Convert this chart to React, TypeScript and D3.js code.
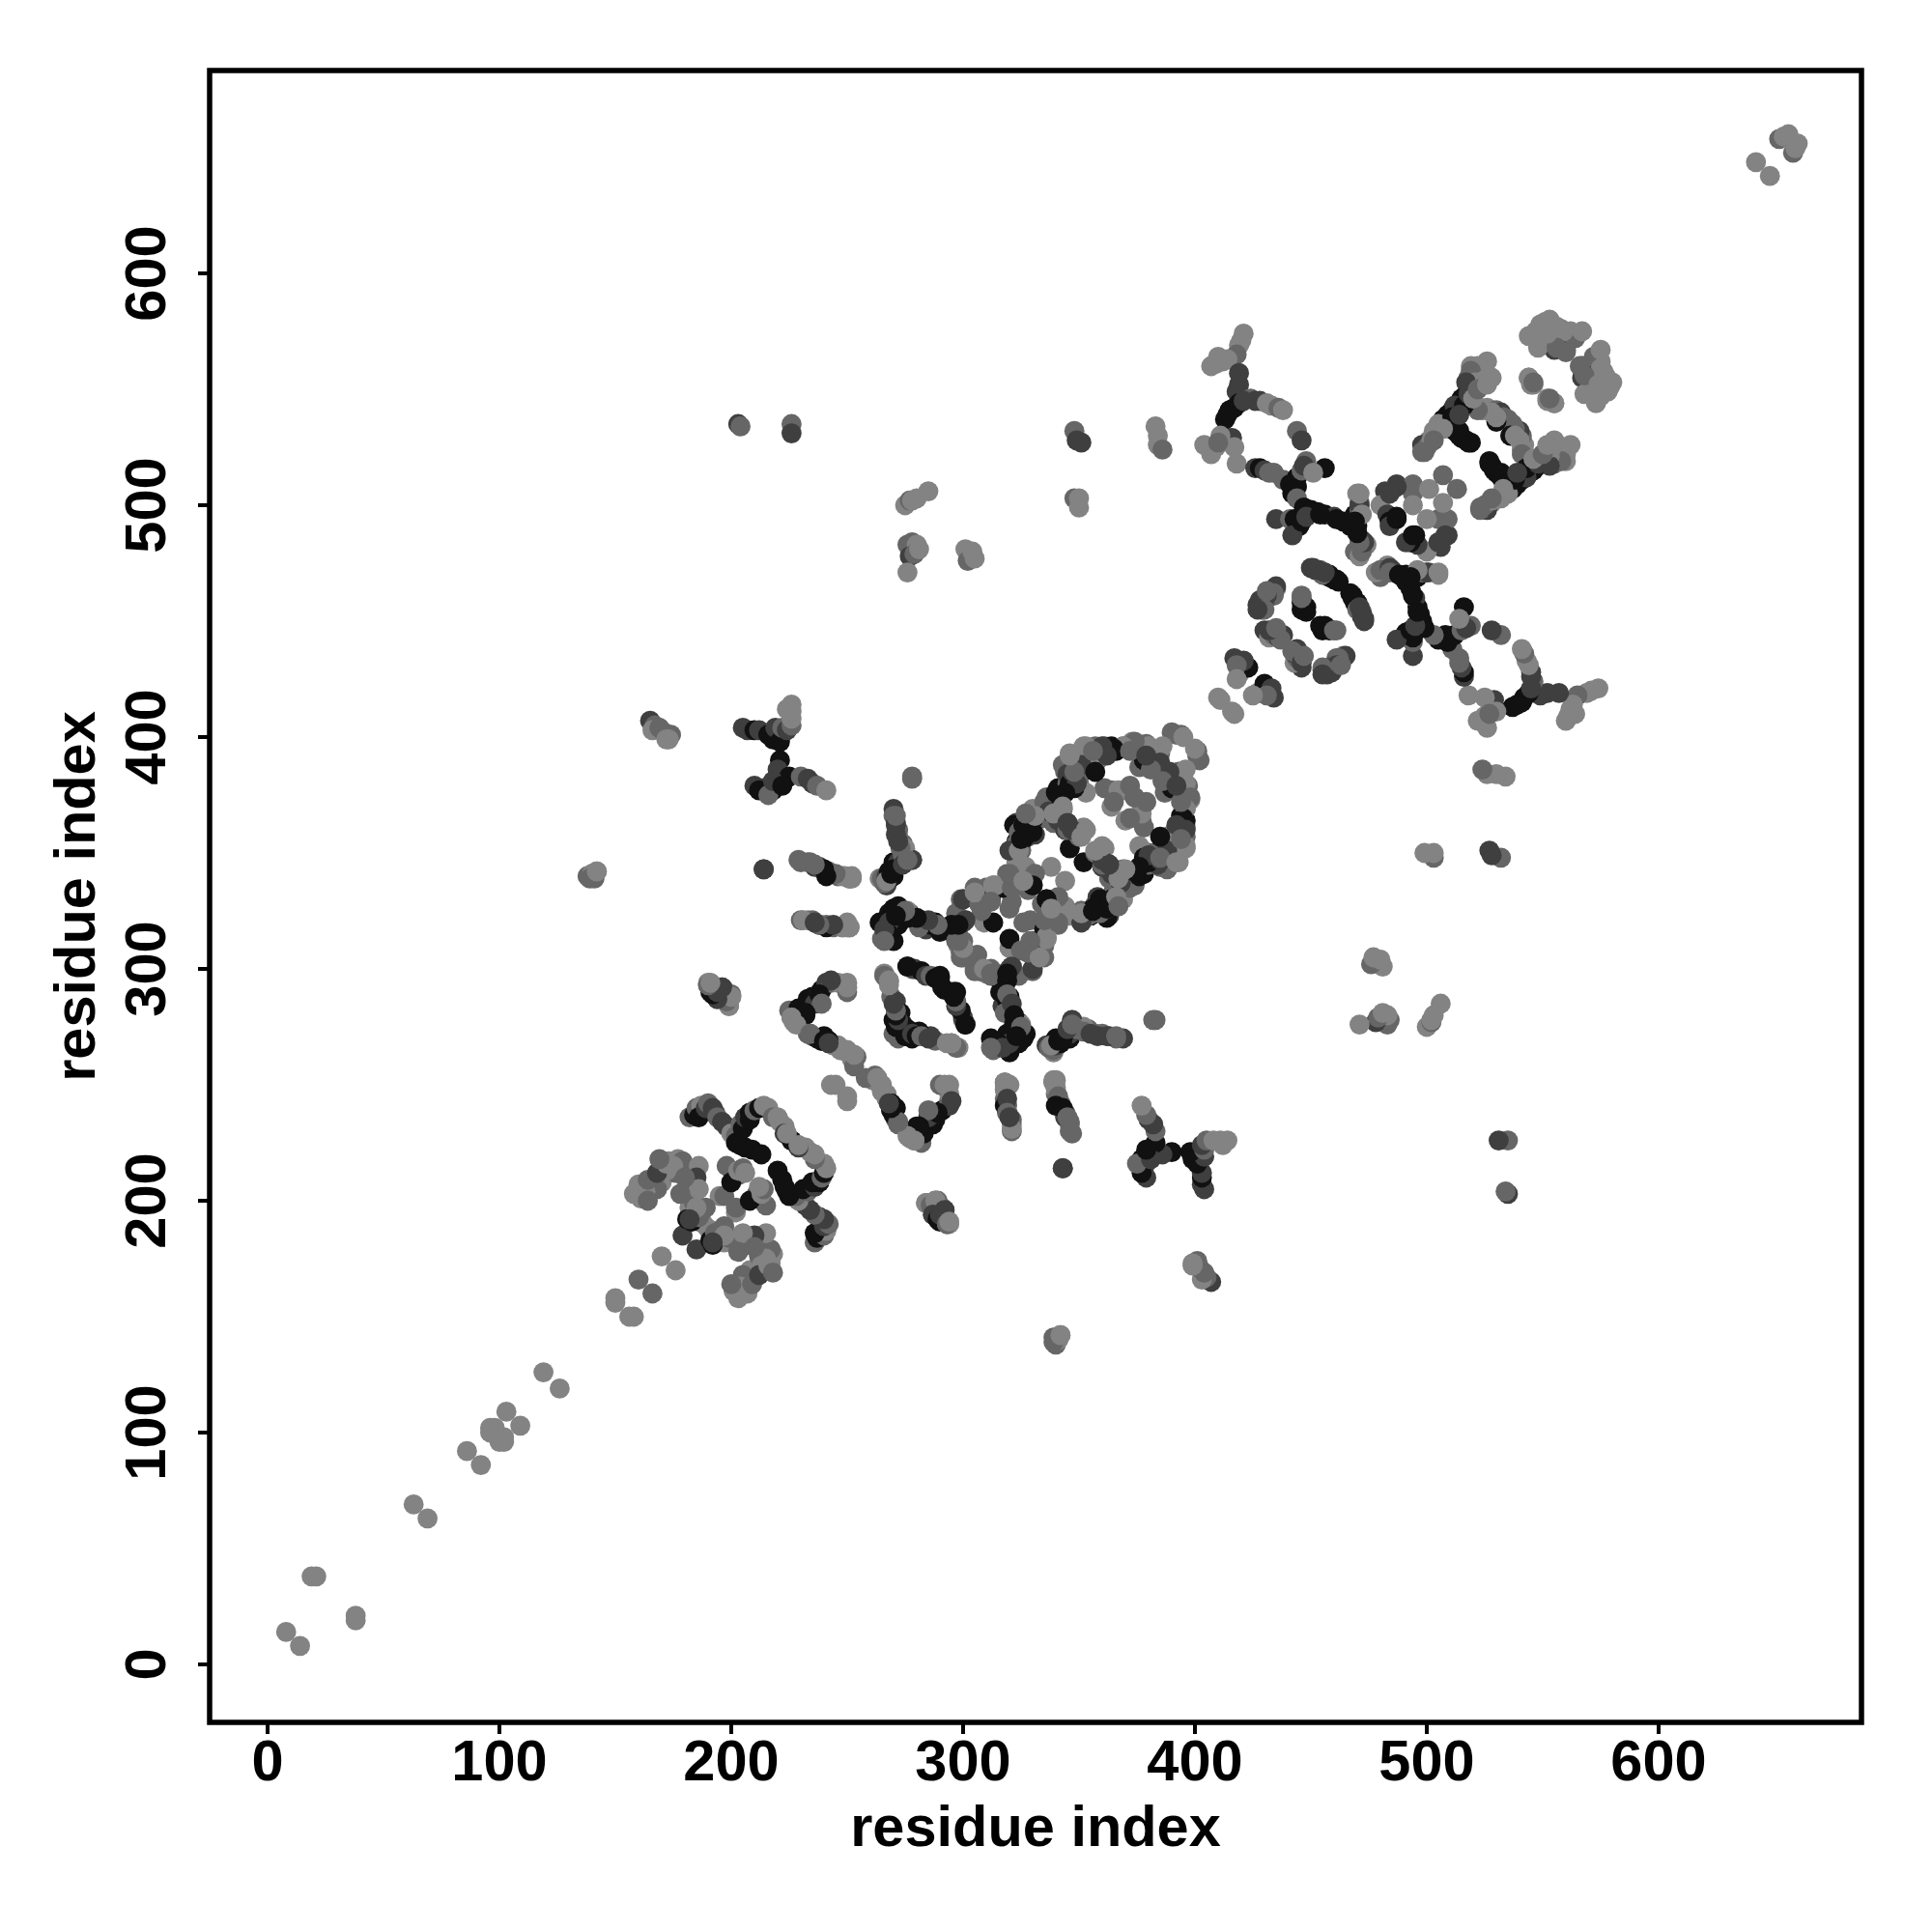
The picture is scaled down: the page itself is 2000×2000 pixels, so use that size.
import React from "react";
import * as d3 from "d3";

type Contact = [number, number, number];
// level: 0 lightest .. 3 darkest
const sparseLow: Contact[] = [
  [8,14,0],[19,38,0],[21,38,0],[63,69,0],[86,92,0],[96,102,0],[98,102,0],[96,100,0],[103,109,0],[119,126,0],
  [150,158,0],[150,156,0],[160,166,1],[170,176,0],[179,185,2],[195,202,0],[197,202,1],[203,211,1],
  [642,648,0],[652,658,1],[654,659,0],[656,660,0],[138,340,1],[140,341,0],[142,342,0],
];
const lobeA: Contact[] = [
  [160,205,0],[161,203,1],[162,205,0],[164,204,0],[166,206,0],[168,207,0],[169,209,1],[170,212,0],[171,215,0],[173,217,0],[175,217,0],[177,218,0],[179,217,1],
  [180,213,1],[182,210,2],[184,212,1],[183,206,3],[184,203,1],[183,200,1],[182,197,0],[181,192,3],[187,195,2],[186,215,0],[185,210,2],[184,199,1],
  [188,190,0],[189,197,1],[191,183,3],[193,186,1],[195,187,1],[197,185,0],[192,182,2],
  [182,236,1],[184,237,3],[185,240,1],[187,241,0],[186,236,3],[189,240,2],[190,242,1],[192,240,2],[193,238,2],[194,236,1],[196,234,2],[198,232,2],[200,229,0],[202,228,1],[202,225,3],[204,224,3],[206,223,3],[209,222,3],[213,220,3],
  [204,233,1],[205,231,3],[206,236,2],[208,238,3],[208,235,3],[210,239,1],[212,240,3],[214,241,0],[216,240,0],[218,236,1],[220,236,0],[221,234,0],[223,232,0],[223,229,2],[226,226,3],[229,224,0],
  [198,215,1],[200,208,3],[203,213,0],[205,214,1],[206,212,0],
  [204,160,0],
];
const lobeB: Contact[] = [
  [205,186,0],[208,170,0],[212,176,1],[213,172,0],[203,178,1],[205,168,1],[204,163,0],[207,160,0],[209,164,1],[212,168,2],[215,175,0],[216,172,0],[218,169,1],[201,161,0],[203,158,0],[200,164,1],[210,180,1],
  [205,404,2],[207,403,2],[210,403,3],[212,403,2],[216,401,3],[218,399,3],[219,404,2],[221,398,3],[222,404,1],[224,403,2],[226,405,1],[226,408,0],[226,411,0],[226,414,0],[224,412,0],
  [221,390,3],[220,386,2],[223,382,2],[225,383,3],[230,383,1],[233,382,2],[235,380,2],[237,379,1],[241,377,0],[218,377,3],[214,378,2],[210,379,2],[212,377,3],[216,375,1],[218,381,2],[222,379,3],
  [229,347,1],[233,346,1],[236,344,2],[239,343,1],[242,342,1],[246,340,1],[249,340,0],[252,340,0],
  [230,321,1],[233,321,0],[236,320,1],[238,319,2],[241,319,1],[244,318,1],[248,318,1],[251,318,1],
  [165,407,2],[167,405,1],[166,403,0],[169,404,1],[171,402,1],[174,401,1],[172,399,0],[190,293,1],[192,291,2],[194,292,3],[195,290,1],[197,291,0],[199,287,1],[200,289,1],[199,285,0],
  [190,294,0],[191,290,3],[194,287,2],[196,292,2],[199,284,0],[200,288,0],
  [173,399,0],[214,343,2],
];
const loopCenter: Contact[] = [
  [225,282,1],[227,277,0],[226,279,1],[229,283,3],[231,281,3],[232,280,3],[234,285,2],[233,287,3],[235,288,3],[236,285,2],[238,289,2],[239,291,3],[241,294,2],[243,294,1],[246,294,0],[250,294,0],[250,290,1],
  [233,272,1],[235,271,1],[237,270,3],[239,269,2],[240,271,3],[242,268,0],[244,267,0],[246,267,0],[248,265,0],[250,264,0],[252,261,0],[253,258,1],[254,262,1],[243,250,0],[245,250,0],[253,263,0],[250,265,0],
  [226,279,0],[228,277,0],[232,281,3],[234,272,1],[239,269,3],[242,269,3],[247,265,0],
  [250,292,0],[243,295,2],[238,289,3],[239,285,1],[232,281,3],[226,279,0],[228,276,0],[234,272,1],[240,269,3],[242,268,2],
  [266,298,0],[268,295,0],[269,288,1],[271,286,2],[271,283,2],[273,281,3],[272,279,2],[276,301,3],[278,300,1],[279,300,2],[282,299,3],[284,297,2],[286,297,1],[288,296,3],[290,297,3],[292,291,3],[290,296,3],[276,301,3],
  [272,280,3],[274,276,3],[272,270,1],
  [270,278,3],[272,275,3],[275,271,3],[278,272,2],[280,271,3],[282,271,1],[285,270,2],[293,268,0],[296,267,0],
  [284,199,0],[286,198,1],[288,200,0],[287,194,2],[289,192,3],[290,194,2],[292,196,2],[293,190,1],[294,191,0],
  [250,318,0],[250,320,0],[251,339,1],[252,339,0],
];
const armLeft: Contact[] = [
  [264,339,0],[266,339,1],[267,336,2],[269,342,3],[270,346,3],[270,340,3],[272,345,2],[274,347,2],[277,347,1],[278,347,0],[270,369,2],[270,366,1],[271,363,2],[272,360,1],[272,357,1],[274,354,1],[275,352,0],
  [264,320,3],[266,318,3],[265,313,1],[268,318,2],[268,324,3],[270,326,3],[272,319,3],[277,324,2],[282,321,2],[288,320,3],[291,318,2],[293,318,1],
  [266,297,1],[268,295,0],
  [267,313,1],[270,312,3],
  [284,317,2],[286,319,3],[280,321,3],[276,325,0],[272,327,3],[270,324,3],
  [297,318,3],[298,310,0],[300,307,0],[301,321,1],[306,306,1],[315,296,3],[316,290,3],[318,298,3],[320,287,3],[318,281,1],[322,276,3],[318,270,3],[320,268,2],[315,268,3],[317,266,2],[312,266,1],
  [318,251,0],[318,248,0],[318,241,3],[319,244,2],[319,238,1],[321,235,1],[321,231,0],[320,236,2],
  [339,251,0],[340,248,0],[341,245,1],[340,241,3],[344,238,2],[343,240,3],[346,234,1],[346,230,1],[345,236,1],[343,214,2],
  [278,383,1],[278,382,1],
  [339,141,1],[341,140,0],[339,139,1],[342,142,0],
  [337,266,1],[339,265,1],[340,267,2],[342,268,3],[344,271,3],[346,272,2],[347,278,2],[349,274,1],[351,274,0],[352,273,1],[355,272,2],[358,271,2],[362,271,2],[366,271,1],
  [338,267,0],[341,269,3],[343,270,3],[345,274,2],[347,276,1],
];
const centerBlock: Contact[] = [
  [299,305,1],[300,309,0],[297,312,1],[299,307,1],[300,312,1],[305,300,1],[309,300,0],[312,298,1],
  [299,330,1],[297,324,1],[300,330,2],[300,320,2],[295,319,3],[289,319,1],[285,321,2],[280,322,3],[275,325,1],[271,323,3],
  [305,335,1],[310,335,1],[313,336,0],[307,330,1],[312,330,2],[308,326,2],[307,328,1],[309,320,0],[313,320,3],
  [319,341,1],[321,336,1],[321,329,1],[320,326,1],[317,335,3],[323,346,0],[327,344,0],[330,341,1],[326,336,3],[330,336,3],[338,344,0],[314,336,0],
  [323,351,1],[328,357,1],[323,355,3],[326,364,3],[323,363,2],[330,367,0],[346,352,3],
  [325,351,0],[322,362,3],[324,359,1],[323,354,1],[328,358,1],[328,364,1],[329,361,1],[330,369,0],[335,372,1],[337,370,1],[337,366,1],[339,363,1],[340,374,2],
  [326,362,1],[334,365,1],[336,374,1],[337,368,2],[341,364,2],[343,363,2],[345,361,2],[343,369,1],[344,360,2],[352,361,0],[350,357,1],[352,360,0],[349,359,0],
  [340,376,3],[341,378,3],[343,378,3],[344,379,3],[345,380,1],[347,382,1],[348,380,2],[349,385,1],[350,383,1],[351,388,2],[346,393,0],[349,389,1],[352,387,2],[352,391,0],[352,396,0],[356,392,2],[358,390,1],[361,396,1],[362,393,1],[364,396,3],[366,394,3],[369,396,0],[373,398,0],[376,394,1],[379,397,1],[381,392,0],[382,394,2],[385,393,1],
  [390,402,1],[392,401,1],[394,401,1],[395,400,0],
  [361,378,1],[364,377,1],[367,377,0],[369,377,0],[364,370,0],[365,372,1],
  [344,385,1],[347,384,1],[350,380,1],[353,376,0],
  [325,351,1],[320,351,2],
  [372,379,1],[378,390,3],[382,387,0],[376,387,1],[374,374,1],[381,392,2],[386,396,0],
  [357,396,1],[354,394,2],[380,396,0],
  [360,345,1],[345,363,2],
  [350,384,1],[348,392,0],[343,388,1],
  [325,336,1],[328,334,1],
  [336,313,0],[330,300,2],[328,307,1],[325,308,1],[321,301,2],[319,298,3],[333,305,0],[329,312,1],
  [345,384,2],[346,380,3],[347,385,2],[348,378,3],
  [330,364,3],[331,358,2],[326,356,3],
  [384,350,1],[380,349,2],[376,344,3],[374,342,3],[370,343,0],[367,339,0],[363,345,2],[360,347,2],[360,353,0],[357,351,0],[351,324,0],[356,325,3],[359,330,3],[362,326,3],[363,329,3],[366,331,0],[367,327,1],[345,325,0],[341,331,1],[336,330,3],[335,321,1],[341,320,1],[338,326,0],
  [389,385,2],[390,378,3],[386,381,1],[396,380,0],[398,374,1],[396,369,0],[395,365,3],[396,360,2],[396,353,0],[392,349,0],[389,357,0],[388,351,2],[385,357,3],[392,362,2],[394,356,1],[394,372,1],[392,379,2],
  [385,348,1],[392,346,0],
];
const farContacts: Contact[] = [
  [203,535,2],[204,534,1],[226,535,1],[226,531,2],[348,532,1],[349,528,2],[351,527,2],[383,534,0],[384,530,0],[384,526,0],[386,524,1],
  [275,500,0],[277,502,1],[278,502,0],[280,503,0],[285,506,0],
  [276,483,1],[278,484,1],[280,483,0],[277,478,2],[279,479,1],[281,481,0],[276,471,0],
  [301,481,0],[303,480,0],[302,476,1],[305,477,0],[304,480,0],
  [348,503,1],[350,503,0],[350,499,0],
];
const xArmLeft: Contact[] = [
  [421,574,0],[420,571,0],[419,569,0],[418,565,1],[410,564,0],[407,560,0],[409,561,0],[412,562,0],[414,563,0],[419,557,2],[419,552,2],[418,549,2],[424,546,1],[426,545,2],[428,545,2],[431,544,0],[433,543,0],[436,542,1],[438,541,0],
  [415,541,3],[417,542,3],[419,544,3],[421,545,2],[413,537,3],[414,539,3],[416,529,2],[411,530,0],[404,526,0],[407,522,0],[409,525,0],[417,525,0],[418,518,0],[410,527,1],
  [444,532,1],[446,528,2],
  [426,516,2],[428,516,3],[430,515,2],[432,514,1],[434,514,1],[438,511,1],[441,509,3],[442,505,3],[444,508,3],[444,512,3],[446,515,1],[448,519,1],[447,517,2],[456,516,3],[451,514,0],
  [444,503,1],[447,499,3],[450,498,3],[453,497,3],[456,496,3],[460,495,2],[464,493,3],[467,491,3],[469,496,3],[470,491,3],[471,501,1],[470,505,0],[471,498,1],[472,485,2],[474,483,0],[469,480,1],[471,483,1],
  [435,494,2],[441,494,1],[443,494,3],[445,491,3],[442,487,2],[446,493,3],[448,495,2],
];
const xCenter: Contact[] = [
  [471,478,0],[472,480,1],[473,484,2],[471,484,1],[470,488,3],
  [471,500,2],[471,505,0],[472,496,0],[469,493,3],[461,494,3],[454,496,3],
  [487,509,2],[482,506,2],[480,500,0],[483,496,2],[484,493,3],[487,495,3],[484,491,2],
  [494,509,1],[494,505,1],[494,500,0],[501,507,0],[507,513,1],[487,508,2],[484,505,2],[487,494,3],
];
const xArmRight: Contact[] = [
  [526,562,0],[525,558,0],[522,560,0],[519,560,0],[519,558,1],[518,555,1],[521,553,0],[517,553,2],[517,548,2],[515,546,3],[511,541,3],[509,539,3],[512,543,2],[507,537,3],[510,535,3],[505,535,0],[503,532,0],[501,528,0],[498,526,2],[498,523,1],[500,525,1],[502,528,0],
  [512,532,3],[514,530,3],[515,529,3],[517,528,3],[519,527,3],[524,541,0],[526,542,0],[528,541,0],[530,541,1],[532,540,2],
  [518,527,3],[514,532,3],[533,538,1],[535,537,1],[536,530,3],[538,530,0],[540,528,0],[541,524,0],[541,522,1],
  [516,543,3],[518,548,2],[520,546,0],[511,538,3],[514,539,2],[507,533,0],[503,528,1],[499,523,1],[525,554,0],[528,555,0],[522,550,1],[526,552,0],
  [544,573,0],[547,575,0],[549,578,0],[551,579,0],[553,580,0],[556,577,0],[558,576,0],[553,572,1],[555,567,2],[558,573,1],[560,567,2],[562,575,0],[564,572,1],[567,575,0],[559,575,0],[548,568,0],[545,573,0],[556,568,1],[560,566,1],[552,574,0],
  [544,555,0],[545,552,0],[552,546,0],[555,544,0],[546,553,1],
];
const xLowerLeft: Contact[] = [
  [450,473,2],[452,472,2],[454,472,1],[456,470,3],[458,470,3],[461,468,3],[467,462,3],[468,460,3],[469,458,3],[470,455,1],[472,453,2],[473,451,2],[471,456,2],
  [435,464,0],[434,461,1],[431,460,2],[430,459,1],[427,457,2],[429,455,2],[432,463,1],[446,461,1],[447,457,3],[446,455,3],[448,456,3],[454,448,3],[456,447,3],[458,446,3],[460,446,1],
  [430,446,2],[432,443,0],[434,444,1],[436,443,2],[438,444,2],[445,435,0],[442,437,1],[446,432,2],[447,435,1],
  [465,435,2],[462,434,1],[461,431,2],[459,428,2],[457,429,2],[455,430,1],[463,431,1],[455,427,2],
  [417,434,2],[419,433,2],[421,430,3],[419,427,0],[430,423,3],[433,421,2],[431,418,1],[425,418,0],[410,417,0],[416,411,0],
];
const contacts: Contact[] = [...xLowerLeft, ...sparseLow, ...lobeA, ...lobeB, ...loopCenter, ...armLeft, ...centerBlock, ...farContacts, ...xArmLeft, ...xCenter, ...xArmRight];

const xTicks = [0, 100, 200, 300, 400, 500, 600];
const yTicks = [0, 100, 200, 300, 400, 500, 600];
const axisTitle = "residue index";
const domain: [number, number] = [-25, 687.5];

const L = 217, R = 1927, T = 73, B = 1783;

export default function App() {
  const x = d3.scaleLinear().domain(domain).range([L, R]);
  const y = d3.scaleLinear().domain(domain).range([B, T]);
  const shade = d3.scaleOrdinal<number, string>().domain([0, 1, 2, 3]).range(["#838383", "#666666", "#3f3f3f", "#111111"]);
  const font = "'Liberation Sans', Arial, sans-serif";
  const points: Contact[] = [];
  contacts.forEach(([a, b, s]) => { points.push([a, b, s]); points.push([b, a, s]); });
  return (
    <svg width={2000} height={2000} style={{ position: "absolute", left: 0, top: 0, background: "#fff" }} fontFamily={font} fontWeight="bold">
      {points.map(([a, b, s], i) => (
        <circle key={i} cx={x(a)} cy={y(b)} r={10.4} fill={shade(s)} />
      ))}
      <rect x={L} y={T} width={R - L} height={B - T} fill="none" stroke="#000" strokeWidth={5.5} />
      {xTicks.map((t) => (
        <g key={t}>
          <line x1={x(t)} x2={x(t)} y1={B} y2={B + 12} stroke="#000" strokeWidth={4} />
          <text x={x(t)} y={1843} textAnchor="middle" fontSize={59.5}>{t}</text>
        </g>
      ))}
      {yTicks.map((t) => (
        <g key={t}>
          <line x1={L} x2={L - 12} y1={y(t)} y2={y(t)} stroke="#000" strokeWidth={4} />
          <text transform={`translate(171,${y(t)}) rotate(-90)`} textAnchor="middle" fontSize={59.5}>{t}</text>
        </g>
      ))}
      <text x={(L + R) / 2} y={1911} textAnchor="middle" fontSize={59.5}>{axisTitle}</text>
      <text transform={`translate(98,${(T + B) / 2}) rotate(-90)`} textAnchor="middle" fontSize={59.5}>{axisTitle}</text>
    </svg>
  );
}
